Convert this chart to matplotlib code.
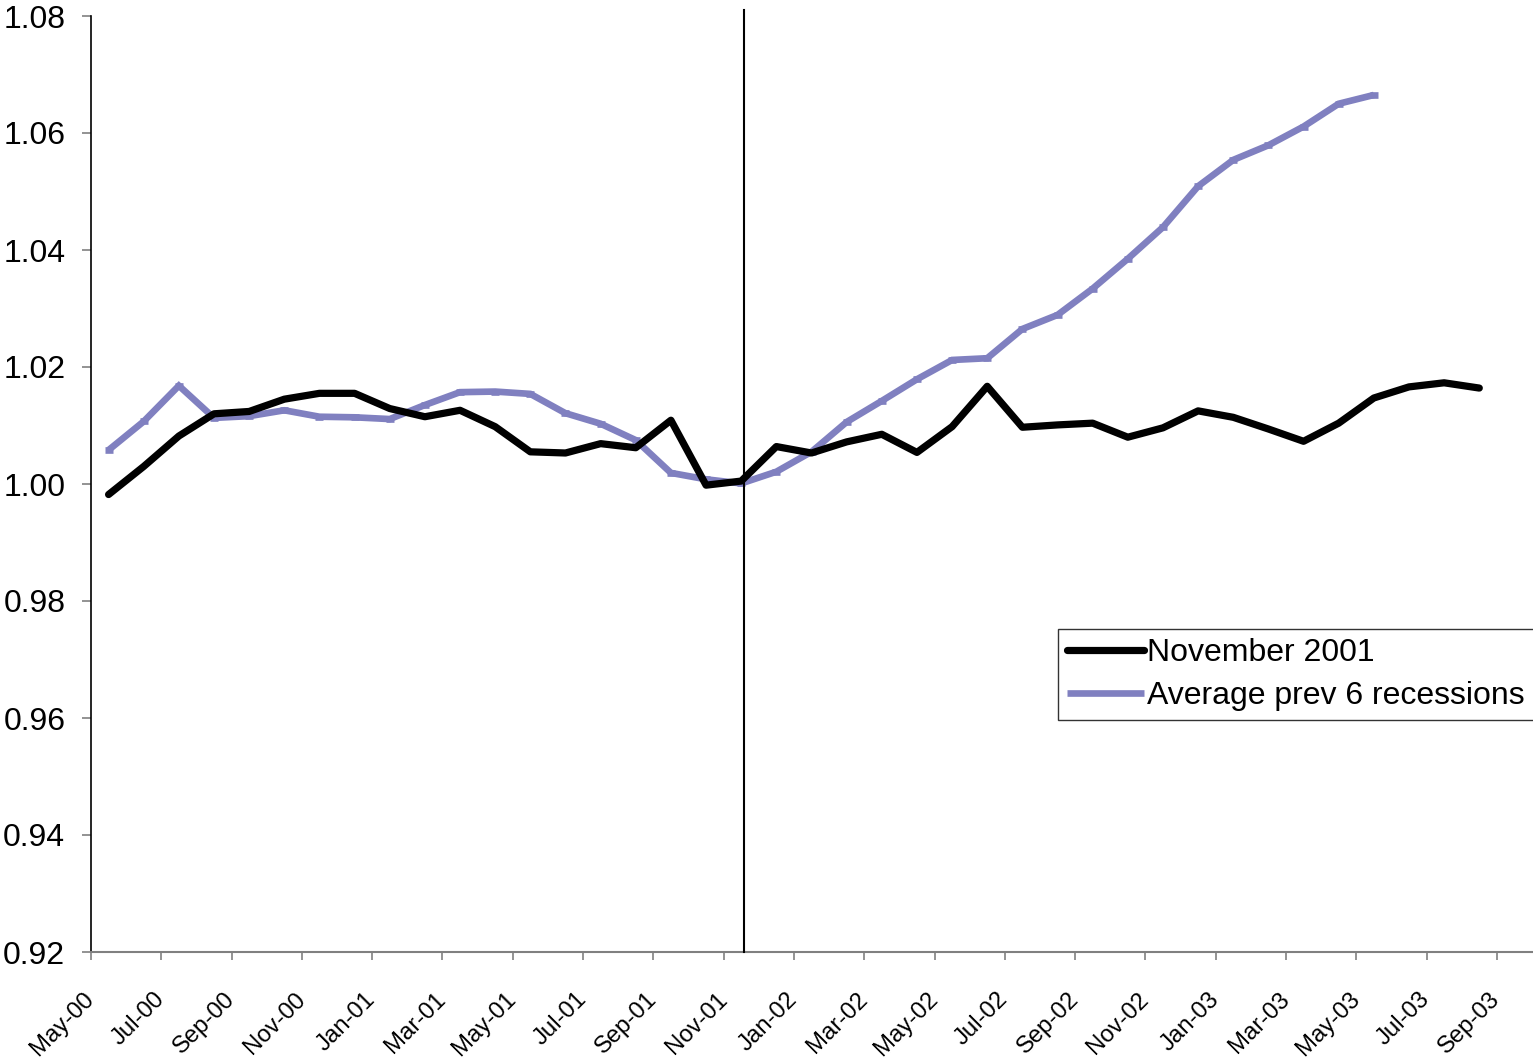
import matplotlib
matplotlib.use("Agg")
import matplotlib.pyplot as plt
from matplotlib.lines import Line2D
from matplotlib.transforms import ScaledTranslation

plt.rcParams['font.family'] = ['Liberation Sans', 'DejaVu Sans']

months = ["May-00", "Jun-00", "Jul-00", "Aug-00", "Sep-00", "Oct-00", "Nov-00", "Dec-00",
          "Jan-01", "Feb-01", "Mar-01", "Apr-01", "May-01", "Jun-01", "Jul-01", "Aug-01",
          "Sep-01", "Oct-01", "Nov-01", "Dec-01", "Jan-02", "Feb-02", "Mar-02", "Apr-02",
          "May-02", "Jun-02", "Jul-02", "Aug-02", "Sep-02", "Oct-02", "Nov-02", "Dec-02",
          "Jan-03", "Feb-03", "Mar-03", "Apr-03", "May-03", "Jun-03", "Jul-03", "Aug-03",
          "Sep-03"]

nov2001 = [0.9982, 1.0030, 1.0082, 1.0120, 1.0124, 1.0145, 1.0155, 1.0155, 1.0129, 1.0115,
           1.0126, 1.0098, 1.0055, 1.0053, 1.0069, 1.0062, 1.0109, 0.9998, 1.0005, 1.0064,
           1.0053, 1.0072, 1.0085, 1.0054, 1.0098, 1.0167, 1.0097, 1.0101, 1.0104, 1.0080,
           1.0096, 1.0125, 1.0114, 1.0094, 1.0073, 1.0104, 1.0147, 1.0166, 1.0173, 1.0164]

avg_prev6 = [1.0058, 1.0107, 1.0168, 1.0113, 1.0116, 1.0126, 1.0115, 1.0114, 1.0111, 1.0135,
             1.0157, 1.0158, 1.0154, 1.0121, 1.0103, 1.0075, 1.0019, 1.0008, 1.0001, 1.0021,
             1.0055, 1.0106, 1.0142, 1.0179, 1.0212, 1.0215, 1.0265, 1.0289, 1.0334, 1.0385,
             1.0439, 1.0509, 1.0554, 1.0579, 1.0611, 1.0650, 1.0665]

yticks = [0.92, 0.94, 0.96, 0.98, 1.00, 1.02, 1.04, 1.06, 1.08]
recession_month = "Nov-01"

purple = "#8080C0"

fig = plt.figure(figsize=(15.33, 10.60), dpi=100)
ax = fig.add_axes([91/1533, 1 - 952/1060, 1441/1533, 936/1060])

x_black = list(range(len(nov2001)))
x_purple = list(range(len(avg_prev6)))

ax.plot(x_purple, avg_prev6, color=purple, lw=4.8, solid_capstyle='butt',
        solid_joinstyle='miter', zorder=3)
ax.plot(x_purple, avg_prev6, linestyle='none', marker='_', markersize=6,
        markeredgewidth=4.8, color=purple, zorder=3)
ax.plot(x_black, nov2001, color='black', lw=5.2, solid_capstyle='round',
        solid_joinstyle='round', zorder=4)

xr = months.index(recession_month)
ax.axvline(xr + 0.08, ymin=0, ymax=(952 - 10) / 936, color='black', lw=1.5,
           clip_on=False, zorder=5)

ax.set_xlim(-0.5, len(months) - 0.5)
ax.set_ylim(0.92, 1.08)
ax.set_yticks(yticks)
ax.set_yticklabels([f"{v:.2f}" for v in yticks])

tick_pos = [i - 0.5 for i in range(0, len(months), 2)]
tick_lab = [months[i] for i in range(0, len(months), 2)]
ax.set_xticks(tick_pos)
ax.set_xticklabels(tick_lab, rotation=45, ha='right', va='center', rotation_mode='anchor')
offset = ScaledTranslation(-3 / 100, 0, fig.dpi_scale_trans)
for lab in ax.get_xticklabels():
    lab.set_transform(lab.get_transform() + offset)

for s in ['top', 'right']:
    ax.spines[s].set_visible(False)
ax.spines['left'].set_color('black')
ax.spines['left'].set_linewidth(1.2)
ax.spines['bottom'].set_color('#808080')
ax.spines['bottom'].set_linewidth(1.5)

ax.tick_params(axis='y', direction='out', length=6.5, width=1.2, color='#808080',
               labelsize=23, pad=12)
ax.tick_params(axis='x', direction='out', length=5.8, width=1.2, color='#808080',
               labelsize=17.2, pad=26)

handles = [Line2D([0], [0], color='black', lw=5.2, solid_capstyle='round'),
           Line2D([0], [0], color=purple, lw=4.8, solid_capstyle='butt')]
leg = ax.legend(handles, ["November 2001", "Average prev 6 recessions"],
                loc='upper left', bbox_to_anchor=((1058 - 91) / 1441, (952 - 629) / 936),
                fontsize=23, frameon=True, fancybox=False, shadow=False,
                handlelength=2.4, handletextpad=0.12, borderpad=0.28,
                labelspacing=0.42, borderaxespad=0)
leg.get_frame().set_edgecolor('black')
leg.get_frame().set_linewidth(1.0)
leg.set_clip_on(False)

fig.savefig("out.png", dpi=100)
